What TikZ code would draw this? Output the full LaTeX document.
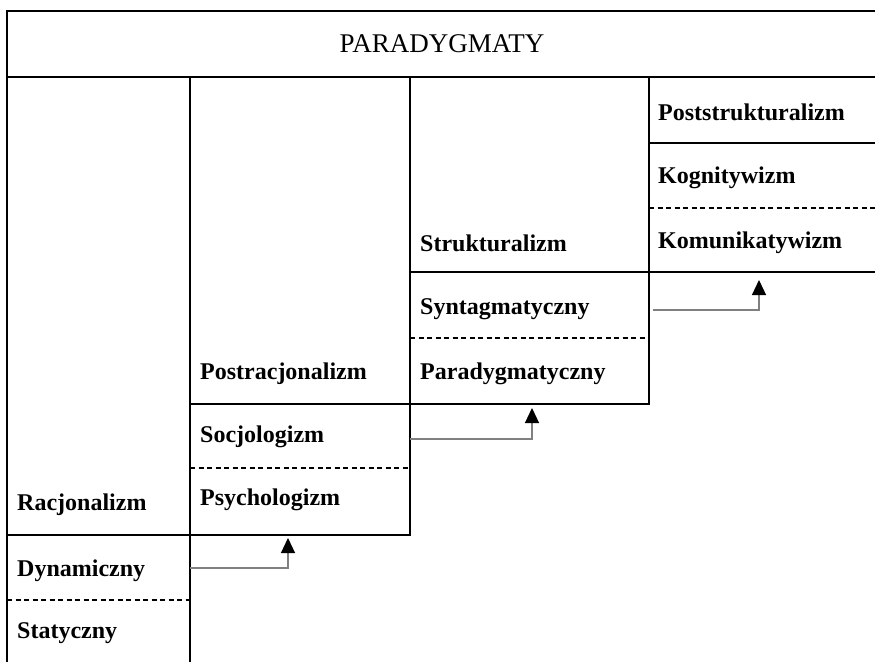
\documentclass[tikz,border=0pt]{standalone}
\usepackage{fontspec}
\setmainfont{Liberation Serif}
\usetikzlibrary{arrows.meta}

\tikzset{
  rule/.style={line width=2.5pt, line cap=rect},
  dashrule/.style={line width=2.5pt, dash pattern=on 5pt off 3.5pt},
  label/.style={anchor=west, inner sep=0pt, font=\fontsize{24}{28}\selectfont\bfseries},
  link/.style={draw=gray, line width=1.2pt,
    -{Triangle[length=15pt, width=14pt, color=black]}}
}

\begin{document}
\begin{tikzpicture}[x=1pt, y=-1pt]
  \useasboundingbox (0,0) rectangle (875,661);

  % frame and header
  \draw[rule] (875,11) -- (7,11) -- (7,661);
  \draw[rule] (7,77) -- (875,77);
  \node[font=\fontsize{27}{31}\selectfont] (title) at (442,44) {PARADYGMATY};

  % column separators
  \draw[rule] (190,77) -- (190,661);
  \draw[rule] (410,77) -- (410,535);
  \draw[rule] (649,77) -- (649,404);

  % solid row boundaries
  \draw[rule] (649,143) -- (875,143);
  \draw[rule] (410,272) -- (875,272);
  \draw[rule] (190,404) -- (649,404);
  \draw[rule] (7,535) -- (410,535);

  % dashed splits
  \draw[dashrule] (649,208) -- (875,208);
  \draw[dashrule] (410,338) -- (649,338);
  \draw[dashrule] (190,468) -- (410,468);
  \draw[dashrule] (7,600) -- (190,600);

  % column 1
  \node[label] (racj) at (17,505) {Racjonalizm};
  \node[label] (dyn)  at (17,571) {Dynamiczny};
  \node[label] (stat) at (17,633) {Statyczny};

  % column 2
  \node[label] (postr) at (200,374) {Postracjonalizm};
  \node[label] (socj)  at (200,437) {Socjologizm};
  \node[label] (psych) at (200,500) {Psychologizm};

  % column 3
  \node[label] (strukt) at (420,243) {Strukturalizm};
  \node[label] (synt)   at (420,309) {Syntagmatyczny};
  \node[label] (parad)  at (420,374) {Paradygmatyczny};

  % column 4
  \node[label] (poststr) at (658,112) {Poststrukturalizm};
  \node[label] (kogn)    at (658,178) {Kognitywizm};
  \node[label] (komun)   at (658,243) {Komunikatywizm};

  % transitions between levels
  \coordinate (a1s) at (190,568);  \coordinate (a1e) at (288,538);
  \coordinate (a2s) at (410,439);  \coordinate (a2e) at (532,408);
  \coordinate (a3s) at (653,310);  \coordinate (a3e) at (759,280);
  \draw[link] (a1s) -| (a1e);
  \draw[link] (a2s) -| (a2e);
  \draw[link] (a3s) -| (a3e);
\end{tikzpicture}
\end{document}
